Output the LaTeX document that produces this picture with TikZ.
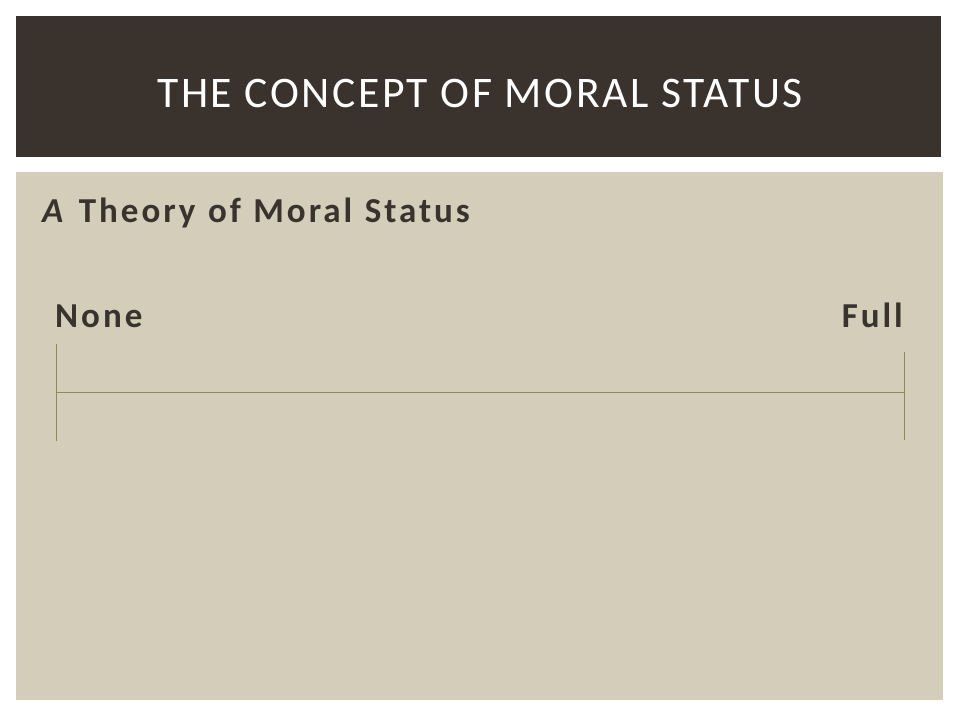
\documentclass[tikz,border=0pt]{standalone}
\usepackage{fontspec}
\setmainfont{Carlito}
\newfontfamily\titlefont[LetterSpace=6]{Carlito}
\newfontfamily\bodyfont[LetterSpace=8.5,WordSpace=1.15]{Carlito}
\definecolor{headbrown}{HTML}{3A322D}
\definecolor{panelbeige}{HTML}{D3CDBA}
\definecolor{scaleolive}{HTML}{8C8A5C}
\definecolor{textbrown}{HTML}{3A322D}
\tikzset{
  label text/.style={inner sep=0pt,text=textbrown,font=\bodyfont\bfseries\fontsize{35}{40}\selectfont},
  scale line/.style={draw=scaleolive,line width=1pt}
}

\begin{document}
\begin{tikzpicture}[x=1pt,y=-1pt]
	\useasboundingbox (0,0) rectangle (960,720);
	
	%BACKGROUND BLOCKS
	\fill[headbrown] (16,16) rectangle (941,157);
	\fill[panelbeige] (16,172) rectangle (943,700);
	
	\node[inner sep=0pt,text=white,font=\titlefont\fontsize{43.6}{50}\selectfont] (title) at (480,94) {THE CONCEPT OF MORAL STATUS};
	\node[label text,anchor=base west] (theory) at (42,222) {\textit{A} Theory of Moral Status};
	\node[label text,anchor=base west] (none) at (55,327) {None};
	\node[label text,anchor=base east] (full) at (903,327) {Full};
	
	%SCALE
	\coordinate (ltop) at (56,344);
	\coordinate (lbot) at (56,441);
	\coordinate (rtop) at (904,352);
	\coordinate (rbot) at (904,440);
	\coordinate (lmid) at (56,392);
	\coordinate (rmid) at (904,392);
	\draw[scale line] (ltop)--(lbot);
	\draw[scale line] (rtop)--(rbot);
	\draw[scale line] (lmid)--(rmid);
\end{tikzpicture}
\end{document}
